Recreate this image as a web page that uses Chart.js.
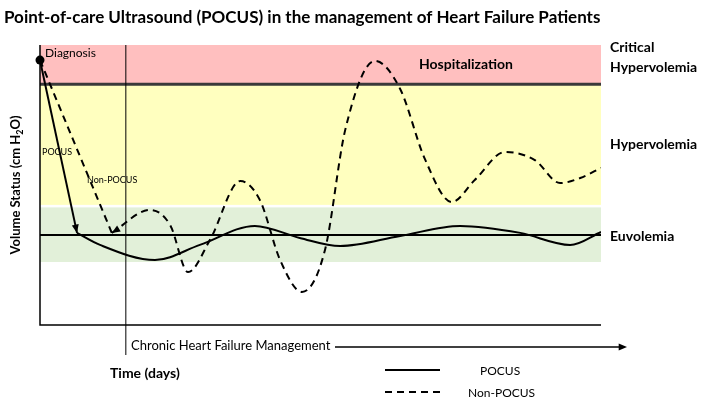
<!DOCTYPE html>
<html><head><meta charset="utf-8">
<script src="https://cdn.jsdelivr.net/npm/chart.js@4"></script>
<style>html,body{margin:0;padding:0;background:#fff}#w{width:701px;height:409px}</style>
</head><body><div id="w"><canvas id="c"></canvas></div>
<script>
// Zones (y in arbitrary volume units, 0-100)
const zoneNames = ['Hospitalization','Hypervolemia','Euvolemia'];
const zoneFrom = [86, 42.9, 22.5];
const zoneTo   = [100, 86, 42];
const zoneColors = ['#ffbfbf','#ffffbf','#e2f0d9'];
const criticalLevel = 86;
const euvolemiaLevel = 32.1;
const chronicStartX = 15.3;

const pocusDropX = [0, 6.6];
const pocusDropY = [94.6, 32.9];
const pocusX = [6.6,10.7,20.5,28.5,38.3,46.3,53.5,64.2,74.9,85.6,94.5,100];
const pocusY = [32.9,28.6,23.2,28.6,35.4,31.1,28.2,31.8,35.4,32.9,28.6,33.2];

const nonDropX = [0, 12.8];
const nonDropY = [94.6, 32.9];
const nonX = [12.8,19.6,23.2,26.4,30.3,35.7,39.2,42.8,46.7,50.8,54.4,59.7,64.2,68.6,73.4,77.5,82.9,88.2,92.7,96.3,100];
const nonY = [32.9,41.1,35.7,18.9,30.4,51.4,44.6,23.2,11.8,26.8,69.6,94.3,84.3,59.3,43.9,51.8,61.8,58.9,50.7,52.5,56.1];

const pts = (xs, ys) => xs.map((x,i)=>({x, y: ys[i]}));
const F = 'Lato, "Open Sans", sans-serif';

function arrowHead(ctx, x1, y1, x2, y2, size){
  const a = Math.atan2(y2-y1, x2-x1);
  ctx.beginPath();
  ctx.moveTo(x2,y2);
  ctx.lineTo(x2-size*Math.cos(a-0.4), y2-size*Math.sin(a-0.4));
  ctx.lineTo(x2-size*Math.cos(a+0.4), y2-size*Math.sin(a+0.4));
  ctx.closePath(); ctx.fill();
}

const bg = {
  id:'bg',
  beforeDatasetsDraw(chart){
    const {ctx, chartArea:a, scales:{x,y}} = chart;
    ctx.save();
    zoneFrom.forEach((f,i)=>{
      ctx.fillStyle = zoneColors[i];
      ctx.fillRect(a.left, y.getPixelForValue(zoneTo[i]), a.right-a.left, y.getPixelForValue(f)-y.getPixelForValue(zoneTo[i]));
    });
    ctx.strokeStyle='#3a3a3a'; ctx.lineWidth=3;
    let py = y.getPixelForValue(criticalLevel);
    ctx.beginPath(); ctx.moveTo(a.left,py); ctx.lineTo(a.right,py); ctx.stroke();
    ctx.strokeStyle='#000'; ctx.lineWidth=2;
    py = y.getPixelForValue(euvolemiaLevel);
    ctx.beginPath(); ctx.moveTo(a.left,py); ctx.lineTo(a.right,py); ctx.stroke();
    // axes
    ctx.lineWidth=1.5;
    ctx.beginPath(); ctx.moveTo(a.left,a.top); ctx.lineTo(a.left,a.bottom); ctx.lineTo(a.right,a.bottom); ctx.stroke();
    // chronic vertical
    const vx = x.getPixelForValue(chronicStartX);
    ctx.lineWidth=1;
    ctx.beginPath(); ctx.moveTo(vx,a.top); ctx.lineTo(vx,a.bottom+30); ctx.stroke();
    ctx.restore();
  },
  afterDatasetsDraw(chart){
    const {ctx, chartArea:a, scales:{x,y}} = chart;
    ctx.save();
    ctx.fillStyle='#000';
    // arrowheads
    arrowHead(ctx, x.getPixelForValue(pocusDropX[0]), y.getPixelForValue(pocusDropY[0]), x.getPixelForValue(pocusDropX[1]), y.getPixelForValue(pocusDropY[1]), 9);
    arrowHead(ctx, x.getPixelForValue(nonX[1]), y.getPixelForValue(nonY[1]), x.getPixelForValue(nonDropX[1]), y.getPixelForValue(nonDropY[1]), 9);
    // diagnosis point
    ctx.beginPath(); ctx.arc(x.getPixelForValue(0), y.getPixelForValue(pocusDropY[0]), 4.5, 0, Math.PI*2); ctx.fill();
    // texts
    ctx.textBaseline='middle';
    ctx.font='bold 17px '+F; ctx.fillText('Point-of-care Ultrasound (POCUS) in the management of Heart Failure Patients', 4, 18);
    ctx.font='12px '+F; ctx.fillText('Diagnosis', 45, 53);
    ctx.font='9px '+F; ctx.fillText('POCUS', 42, 152); ctx.fillText('Non-POCUS', 87, 180);
    ctx.font='bold 14px '+F;
    ctx.textAlign='center'; ctx.fillText(zoneNames[0], 466, 64);
    ctx.textAlign='left';
    ctx.fillText('Critical', 610, 47); ctx.fillText('Hypervolemia', 610, 67);
    ctx.fillText(zoneNames[1], 610, 144); ctx.fillText(zoneNames[2], 610, 236);
    ctx.font='13px '+F; ctx.fillText('Chronic Heart Failure Management', 131, 346);
    ctx.lineWidth=1.5; ctx.beginPath(); ctx.moveTo(335,347); ctx.lineTo(620,347); ctx.stroke();
    arrowHead(ctx, 600,347,627,347,9);
    ctx.font='bold 14px '+F; ctx.fillText('Time (days)', 110, 373);
    // legend
    ctx.lineWidth=2; ctx.beginPath(); ctx.moveTo(385,370); ctx.lineTo(440,370); ctx.stroke();
    ctx.setLineDash([7,5]); ctx.beginPath(); ctx.moveTo(385,392); ctx.lineTo(440,392); ctx.stroke(); ctx.setLineDash([]);
    ctx.font='12px '+F; ctx.fillText('POCUS', 480, 371); ctx.fillText('Non-POCUS', 468, 393);
    // y title
    ctx.translate(16, 185); ctx.rotate(-Math.PI/2);
    ctx.textAlign='center'; ctx.font='bold 13px '+F;
    const t1='Volume Status (cm H', t2=')';
    const w1=ctx.measureText(t1).width, w2=ctx.measureText(t2).width;
    ctx.font='bold 9px '+F; const ws=ctx.measureText('2').width, wo=ctx.measureText('O').width;
    ctx.font='bold 13px '+F; const wO=ctx.measureText('O').width;
    let sx = -(w1+ws+wO+ws*0+w2)/2; ctx.textAlign='left';
    ctx.fillText(t1, sx, 0); sx+=w1;
    ctx.font='bold 9px '+F; ctx.fillText('2', sx, 4); sx+=ws;
    ctx.font='bold 13px '+F; ctx.fillText('O', sx, 0); sx+=wO;
    ctx.fillText(t2, sx, 0);
    ctx.restore();
  }
};

new Chart(document.getElementById('c'), {
  type:'line',
  data:{datasets:[
    {data:pts(pocusDropX,pocusDropY), borderColor:'#000', borderWidth:2, pointRadius:0, tension:0},
    {data:pts(pocusX,pocusY), borderColor:'#000', borderWidth:2, pointRadius:0, cubicInterpolationMode:'monotone'},
    {data:pts(nonDropX,nonDropY), borderColor:'#000', borderWidth:2, borderDash:[7,5], pointRadius:0, tension:0},
    {data:pts(nonX,nonY), borderColor:'#000', borderWidth:2, borderDash:[7,5], pointRadius:0, cubicInterpolationMode:'monotone'}
  ]},
  options:{
    responsive:true, maintainAspectRatio:false, animation:false,
    layout:{padding:{left:40,right:100,top:45,bottom:84}},
    plugins:{legend:{display:false}, tooltip:{enabled:false}},
    scales:{x:{type:'linear',min:0,max:100,display:false}, y:{min:0,max:100,display:false}}
  },
  plugins:[bg]
});
</script></body></html>
